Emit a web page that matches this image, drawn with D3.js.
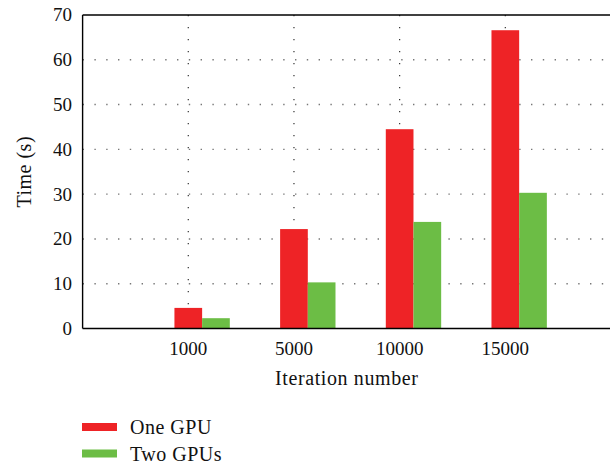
<!DOCTYPE html>
<html>
<head>
<meta charset="utf-8">
<script src="https://cdn.jsdelivr.net/npm/d3@7"></script>
<style>
  body { margin: 0; background: #fff; }
  text { font-family: "Liberation Serif", "Times New Roman", serif; fill: #111; }
</style>
</head>
<body>
<div id="chart"></div>
<script>
const iterations = ['1000', '5000', '10000', '15000'];
const one_gpu = [4.6, 22.2, 44.5, 66.6];
const two_gpus = [2.3, 10.3, 23.8, 30.3];
const series_names = ['One GPU', 'Two GPUs'];
const y_ticks = [0, 10, 20, 30, 40, 50, 60, 70];

const colors = ['#ee2326', '#6cbd45'];

const width = 610;
const height = 464;
const plot = { left: 82.6, right: 611, top: 15, bottom: 328.5 };

const svg = d3.select('#chart')
    .append('svg')
    .attr('width', width)
    .attr('height', height);

// scales: categories sit at positions 1..4 on a 0..5 axis
const x_scale = d3.scaleLinear()
    .domain([0, iterations.length + 1])
    .range([plot.left, plot.right]);

const y_scale = d3.scaleLinear()
    .domain([0, 70])
    .range([plot.bottom, plot.top]);

const bar_w = 0.262;

// horizontal grid
svg.append('g')
    .selectAll('line')
    .data(y_ticks.filter(d => d > 0 && d < 70))
    .enter()
    .append('line')
    .attr('x1', plot.left)
    .attr('x2', plot.right)
    .attr('y1', d => y_scale(d))
    .attr('y2', d => y_scale(d))
    .attr('stroke', '#777')
    .attr('stroke-width', 1.4)
    .attr('stroke-dasharray', '1.4 10.4');

// vertical grid
svg.append('g')
    .selectAll('line')
    .data(iterations)
    .enter()
    .append('line')
    .attr('x1', (d, i) => x_scale(i + 1))
    .attr('x2', (d, i) => x_scale(i + 1))
    .attr('y1', plot.top)
    .attr('y2', plot.bottom)
    .attr('stroke', '#333')
    .attr('stroke-width', 1.2)
    .attr('stroke-dasharray', '1.2 10.8');

// bars
[one_gpu, two_gpus].forEach((values, s) => {
    svg.append('g')
        .selectAll('rect')
        .data(values)
        .enter()
        .append('rect')
        .attr('x', (d, i) => x_scale(i + 1 - bar_w / 2 + s * bar_w))
        .attr('width', x_scale(bar_w) - x_scale(0))
        .attr('y', d => y_scale(d))
        .attr('height', d => plot.bottom - y_scale(d))
        .attr('fill', colors[s]);
});

// frame: left, top, bottom
const frame = svg.append('g')
    .attr('stroke', '#000')
    .attr('stroke-width', 1.4)
    .attr('fill', 'none');
frame.append('line').attr('x1', plot.left).attr('x2', plot.left).attr('y1', plot.top).attr('y2', plot.bottom);
frame.append('line').attr('x1', plot.left).attr('x2', plot.right).attr('y1', plot.top).attr('y2', plot.top);
frame.append('line').attr('x1', plot.left).attr('x2', plot.right).attr('y1', plot.bottom).attr('y2', plot.bottom);

// y tick labels
svg.append('g')
    .selectAll('text')
    .data(y_ticks)
    .enter()
    .append('text')
    .text(d => d)
    .attr('x', 72)
    .attr('y', d => y_scale(d))
    .attr('dy', '0.34em')
    .attr('text-anchor', 'end')
    .attr('font-size', 19);

// x tick labels
svg.append('g')
    .selectAll('text')
    .data(iterations)
    .enter()
    .append('text')
    .text(d => d)
    .attr('x', (d, i) => x_scale(i + 1))
    .attr('y', 355)
    .attr('text-anchor', 'middle')
    .attr('font-size', 19);

// axis titles
svg.append('text')
    .text('Iteration number')
    .attr('x', (plot.left + plot.right) / 2)
    .attr('y', 385)
    .attr('text-anchor', 'middle')
    .attr('font-size', 20)
    .attr('letter-spacing', 0.6);

svg.append('text')
    .text('Time (s)')
    .attr('transform', `translate(31, ${(plot.top + plot.bottom) / 2}) rotate(-90)`)
    .attr('text-anchor', 'middle')
    .attr('font-size', 20)
    .attr('letter-spacing', 0.5);

// legend
const legend = svg.append('g')
    .selectAll('g')
    .data(series_names)
    .enter()
    .append('g')
    .attr('transform', (d, i) => `translate(82, ${423 + i * 26.5})`);

legend.append('rect')
    .attr('width', 35)
    .attr('height', 8)
    .attr('fill', (d, i) => colors[i]);

legend.append('text')
    .text(d => d)
    .attr('x', 48)
    .attr('y', 11)
    .attr('font-size', 20)
    .attr('letter-spacing', 0.5);
</script>
</body>
</html>
